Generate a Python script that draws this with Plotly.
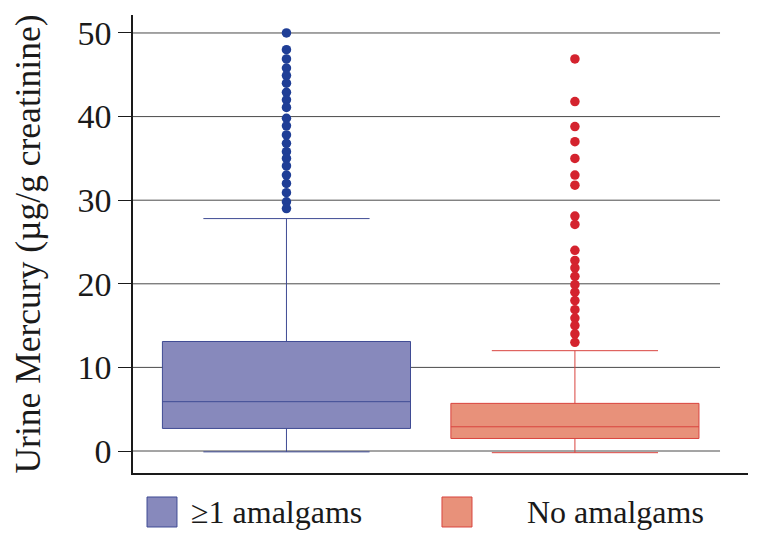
import plotly.graph_objects as go

# ---- data ----
categories = ["≥1 amalgams", "No amalgams"]
q1 = [2.7, 1.5]
median = [5.9, 2.9]
q3 = [13.1, 5.7]
lowerfence = [-0.1, -0.2]
upperfence = [27.8, 12.0]
outliers_amalgam = [50.0, 48.0, 46.9, 45.8, 44.9, 44.0, 42.9, 42.0, 41.1, 39.8,
                    38.9, 37.8, 36.8, 35.8, 35.0, 34.1, 33.0, 32.0, 30.9, 29.8, 29.0]
outliers_none = [46.9, 41.8, 38.8, 37.0, 35.0, 33.0, 31.8, 28.1, 27.1, 24.0,
                 22.8, 21.9, 20.9, 19.9, 19.0, 18.0, 16.9, 15.9, 15.0, 14.0, 13.0]
y_ticks = [0, 10, 20, 30, 40, 50]

fills = ["#8789BC", "#E8917A"]
edges = ["#3F4B94", "#D9443F"]
dots = ["#1F3E96", "#D4232E"]
outliers = [outliers_amalgam, outliers_none]

FONT = "Liberation Serif"
fig = go.Figure()

for i, cat in enumerate(categories):
    fig.add_trace(go.Box(
        x=[i], q1=[q1[i]], median=[median[i]], q3=[q3[i]],
        lowerfence=[lowerfence[i]], upperfence=[upperfence[i]],
        width=0.86, whiskerwidth=0.67, boxpoints=False,
        fillcolor=fills[i], line=dict(color=edges[i], width=1),
        name=cat, showlegend=False, hoverinfo="y"))
    fig.add_trace(go.Scatter(
        x=[i] * len(outliers[i]), y=outliers[i], mode="markers",
        marker=dict(color=dots[i], size=9.5), showlegend=False, name=cat))

# horizontal grid lines (stop short of the x-axis end)
for t in y_ticks:
    fig.add_shape(type="line", xref="x", yref="y", x0=-0.532, x1=1.503, y0=t, y1=t,
                  line=dict(color="#4a4a4a", width=1), layer="below")

# custom legend
sw = [(0.0228, 0.0715), (0.5024, 0.5512)]
tx = [0.091, 0.637]
for i, cat in enumerate(categories):
    fig.add_shape(type="rect", xref="paper", yref="paper",
                  x0=sw[i][0], x1=sw[i][1], y0=-0.1179, y1=-0.0524,
                  fillcolor=fills[i], line=dict(color=edges[i], width=1))
    fig.add_annotation(xref="paper", yref="paper", x=tx[i], y=-0.0852,
                       text=cat, showarrow=False, xanchor="left", yanchor="middle",
                       font=dict(family=FONT, size=32, color="#1a1a1a"))

fig.update_layout(
    width=755, height=540,
    margin=dict(l=125, r=15, t=7, b=75),
    paper_bgcolor="white", plot_bgcolor="white",
    showlegend=False,
    xaxis=dict(range=[-0.532, 1.6], showgrid=False, zeroline=False,
               showticklabels=False, ticks="", showline=True,
               linecolor="#1a1a1a", linewidth=2),
    yaxis=dict(range=[-2.63, 52.15], tickvals=y_ticks, showgrid=False, zeroline=False,
               showline=True, linecolor="#1a1a1a", linewidth=1.5, automargin=False,
               ticks="outside", ticklen=13, tickcolor="#1a1a1a", tickwidth=1,
               tickfont=dict(family=FONT, size=34, color="#1a1a1a"),
               title=dict(text="Urine Mercury (µg/g creatinine)", standoff=27,
                          font=dict(family=FONT, size=35.5, color="#1a1a1a"))),
)

fig.write_html("out.html")
